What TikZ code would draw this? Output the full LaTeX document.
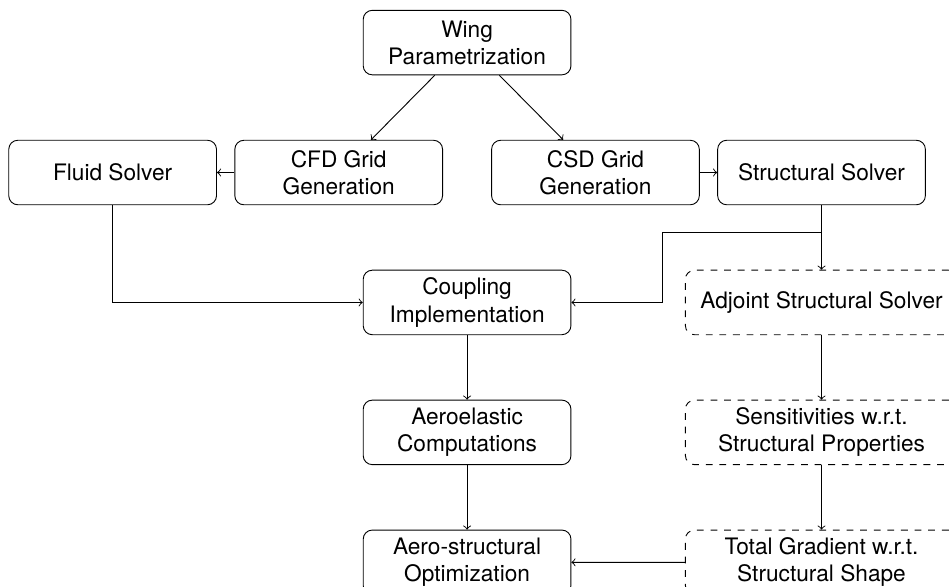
\documentclass[tikz,border=0pt]{standalone}
\usepackage{fontspec}
\setmainfont{TeX Gyre Heros}
\usepackage{tikz}
\usetikzlibrary{positioning,calc}

\begin{document}
\begin{tikzpicture}[
node distance=1cm,
box/.style={
draw,
rounded corners,
align=center,
minimum width=3.22cm,
minimum height=1cm
},
dashbox/.style={
draw,
dashed,
rounded corners,
align=center,
minimum width=4.22cm,
minimum height=1cm
},
arrow/.style={
->
}
]

\useasboundingbox (0,0) rectangle (14.71,-9.085);
\clip (0,0) rectangle (14.71,-9.085);


% Parametrization and grids

\node (wing) [box] at (7.24,-0.66)
{Wing\\Parametrization};

\node (cfd) [box, below=1cm of wing, xshift=-1.99cm]
{CFD Grid\\Generation};

\node (csd) [box, below=1cm of wing, xshift=1.99cm]
{CSD Grid\\Generation};


\draw[arrow] (wing) -- (cfd);
\draw[arrow] (wing) -- (csd);


% Solvers

\node (fluid) [box, left=0.27cm of cfd]
{Fluid Solver};

\node (struct) [box, right=0.27cm of csd]
{Structural Solver};


\draw[arrow] (cfd) -- (fluid);
\draw[arrow] (csd) -- (struct);


% Coupling chain

\node (coupling) [box, below=1cm of $(cfd.south)!0.5!(csd.south)$]
{Coupling\\Implementation};

\node (aeroel) [box, below=1cm of coupling]
{Aeroelastic\\Computations};

\node (optim) [box, below=1cm of aeroel]
{Aero-structural\\Optimization};


\coordinate (split) at ($(struct.south)+(0,-0.42)$);

\draw[arrow] (fluid.south) |- (coupling.west);
\draw[arrow] (struct.south) -- (split) -- ++(-2.47,0) |- (coupling.east);
\draw[arrow] (coupling) -- (aeroel);
\draw[arrow] (aeroel) -- (optim);


% Adjoint chain

\node (adjoint) [dashbox, below=1cm of struct]
{Adjoint Structural Solver};

\node (sens) [dashbox, below=1cm of adjoint]
{Sensitivities w.r.t.\\Structural Properties};

\node (total) [dashbox, below=1cm of sens]
{Total Gradient w.r.t.\\Structural Shape};


\draw[arrow] (split) -- (adjoint);
\draw[arrow] (adjoint) -- (sens);
\draw[arrow] (sens) -- (total);
\draw[arrow] (total) -- (optim);


\end{tikzpicture}
\end{document}
